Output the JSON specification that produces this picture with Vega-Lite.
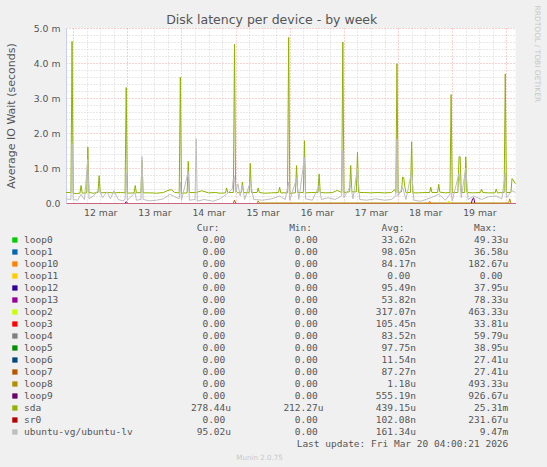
{
  "$schema": "https://vega.github.io/schema/vega-lite/v6.json",
  "background": "#f0f0f0",
  "padding": {"left": 5, "top": 5, "right": 6, "bottom": 7},
  "config": {"font": "DejaVu Sans", "view": {"stroke": null}, "concat": {"spacing": 5}},
  "datasets": {
    "sda": [
      {"t": "2026-03-11T20:50Z", "v": 0.30}, {"t": "2026-03-11T23:00Z", "v": 0.30}, {"t": "2026-03-11T23:30Z", "v": 4.62},
      {"t": "2026-03-12T00:00Z", "v": 0.28}, {"t": "2026-03-12T01:30Z", "v": 0.27}, {"t": "2026-03-12T03:00Z", "v": 0.28},
      {"t": "2026-03-12T03:30Z", "v": 0.50}, {"t": "2026-03-12T04:00Z", "v": 0.28}, {"t": "2026-03-12T06:00Z", "v": 0.29},
      {"t": "2026-03-12T06:30Z", "v": 1.60}, {"t": "2026-03-12T07:00Z", "v": 0.30}, {"t": "2026-03-12T09:00Z", "v": 0.28},
      {"t": "2026-03-12T11:00Z", "v": 0.30}, {"t": "2026-03-12T11:30Z", "v": 0.78}, {"t": "2026-03-12T12:00Z", "v": 0.29},
      {"t": "2026-03-12T15:00Z", "v": 0.30}, {"t": "2026-03-12T18:00Z", "v": 0.29}, {"t": "2026-03-12T21:00Z", "v": 0.30},
      {"t": "2026-03-12T23:00Z", "v": 0.29}, {"t": "2026-03-12T23:30Z", "v": 3.30}, {"t": "2026-03-13T00:00Z", "v": 0.28},
      {"t": "2026-03-13T03:00Z", "v": 0.29}, {"t": "2026-03-13T03:30Z", "v": 0.50}, {"t": "2026-03-13T04:00Z", "v": 0.29},
      {"t": "2026-03-13T06:00Z", "v": 0.30}, {"t": "2026-03-13T06:30Z", "v": 1.22}, {"t": "2026-03-13T07:00Z", "v": 0.29},
      {"t": "2026-03-13T10:00Z", "v": 0.29}, {"t": "2026-03-13T13:00Z", "v": 0.28}, {"t": "2026-03-13T16:00Z", "v": 0.30},
      {"t": "2026-03-13T18:00Z", "v": 0.36}, {"t": "2026-03-13T19:30Z", "v": 0.38}, {"t": "2026-03-13T21:00Z", "v": 0.30},
      {"t": "2026-03-13T23:00Z", "v": 0.29}, {"t": "2026-03-13T23:30Z", "v": 3.60}, {"t": "2026-03-14T00:00Z", "v": 0.28},
      {"t": "2026-03-14T02:30Z", "v": 0.29}, {"t": "2026-03-14T03:00Z", "v": 1.19}, {"t": "2026-03-14T03:30Z", "v": 0.30},
      {"t": "2026-03-14T06:30Z", "v": 0.30}, {"t": "2026-03-14T09:00Z", "v": 0.35}, {"t": "2026-03-14T12:00Z", "v": 0.29},
      {"t": "2026-03-14T15:00Z", "v": 0.30}, {"t": "2026-03-14T17:00Z", "v": 0.28}, {"t": "2026-03-14T19:30Z", "v": 0.29},
      {"t": "2026-03-14T20:00Z", "v": 0.43}, {"t": "2026-03-14T20:30Z", "v": 0.30}, {"t": "2026-03-14T23:00Z", "v": 0.30},
      {"t": "2026-03-14T23:30Z", "v": 4.54}, {"t": "2026-03-15T00:00Z", "v": 0.35}, {"t": "2026-03-15T01:00Z", "v": 0.29},
      {"t": "2026-03-15T02:30Z", "v": 0.30}, {"t": "2026-03-15T03:00Z", "v": 0.60}, {"t": "2026-03-15T03:30Z", "v": 0.30},
      {"t": "2026-03-15T06:00Z", "v": 0.29}, {"t": "2026-03-15T06:30Z", "v": 1.13}, {"t": "2026-03-15T07:00Z", "v": 0.30},
      {"t": "2026-03-15T09:30Z", "v": 0.30}, {"t": "2026-03-15T10:00Z", "v": 0.43}, {"t": "2026-03-15T10:30Z", "v": 0.30},
      {"t": "2026-03-15T13:00Z", "v": 0.28}, {"t": "2026-03-15T16:00Z", "v": 0.29}, {"t": "2026-03-15T19:00Z", "v": 0.30},
      {"t": "2026-03-15T19:30Z", "v": 0.45}, {"t": "2026-03-15T20:00Z", "v": 0.29}, {"t": "2026-03-15T23:00Z", "v": 0.29},
      {"t": "2026-03-15T23:30Z", "v": 4.73}, {"t": "2026-03-16T00:00Z", "v": 0.28}, {"t": "2026-03-16T02:30Z", "v": 0.29},
      {"t": "2026-03-16T03:00Z", "v": 1.07}, {"t": "2026-03-16T03:30Z", "v": 0.30}, {"t": "2026-03-16T06:00Z", "v": 0.30},
      {"t": "2026-03-16T06:30Z", "v": 1.78}, {"t": "2026-03-16T07:00Z", "v": 0.29}, {"t": "2026-03-16T09:30Z", "v": 0.30},
      {"t": "2026-03-16T12:30Z", "v": 0.30}, {"t": "2026-03-16T13:00Z", "v": 0.83}, {"t": "2026-03-16T13:30Z", "v": 0.30},
      {"t": "2026-03-16T16:00Z", "v": 0.29}, {"t": "2026-03-16T19:00Z", "v": 0.30}, {"t": "2026-03-16T21:00Z", "v": 0.36},
      {"t": "2026-03-16T23:00Z", "v": 0.30}, {"t": "2026-03-16T23:30Z", "v": 4.60}, {"t": "2026-03-17T00:00Z", "v": 0.30},
      {"t": "2026-03-17T02:30Z", "v": 0.32}, {"t": "2026-03-17T03:00Z", "v": 1.07}, {"t": "2026-03-17T03:30Z", "v": 0.32},
      {"t": "2026-03-17T05:30Z", "v": 0.32}, {"t": "2026-03-17T06:00Z", "v": 1.45}, {"t": "2026-03-17T06:30Z", "v": 0.30},
      {"t": "2026-03-17T09:00Z", "v": 0.30}, {"t": "2026-03-17T12:00Z", "v": 0.29}, {"t": "2026-03-17T15:00Z", "v": 0.30},
      {"t": "2026-03-17T18:00Z", "v": 0.29}, {"t": "2026-03-17T21:00Z", "v": 0.30}, {"t": "2026-03-17T22:30Z", "v": 0.38},
      {"t": "2026-03-17T23:00Z", "v": 0.30}, {"t": "2026-03-17T23:30Z", "v": 3.98}, {"t": "2026-03-18T00:00Z", "v": 0.30},
      {"t": "2026-03-18T01:30Z", "v": 0.32}, {"t": "2026-03-18T02:00Z", "v": 0.74}, {"t": "2026-03-18T02:30Z", "v": 0.72},
      {"t": "2026-03-18T03:00Z", "v": 0.45}, {"t": "2026-03-18T03:30Z", "v": 0.30}, {"t": "2026-03-18T05:30Z", "v": 0.30},
      {"t": "2026-03-18T06:00Z", "v": 1.75}, {"t": "2026-03-18T06:30Z", "v": 0.29}, {"t": "2026-03-18T09:00Z", "v": 0.29},
      {"t": "2026-03-18T12:00Z", "v": 0.30}, {"t": "2026-03-18T14:00Z", "v": 0.30}, {"t": "2026-03-18T14:30Z", "v": 0.45},
      {"t": "2026-03-18T15:00Z", "v": 0.30}, {"t": "2026-03-18T17:30Z", "v": 0.30}, {"t": "2026-03-18T18:00Z", "v": 0.53},
      {"t": "2026-03-18T18:30Z", "v": 0.31}, {"t": "2026-03-18T21:00Z", "v": 0.29}, {"t": "2026-03-18T23:00Z", "v": 0.30},
      {"t": "2026-03-18T23:30Z", "v": 3.10}, {"t": "2026-03-19T00:00Z", "v": 0.30}, {"t": "2026-03-19T02:30Z", "v": 0.30},
      {"t": "2026-03-19T03:00Z", "v": 1.32}, {"t": "2026-03-19T03:30Z", "v": 1.32}, {"t": "2026-03-19T04:00Z", "v": 0.30},
      {"t": "2026-03-19T05:30Z", "v": 0.30}, {"t": "2026-03-19T06:00Z", "v": 1.32}, {"t": "2026-03-19T06:30Z", "v": 0.30},
      {"t": "2026-03-19T09:00Z", "v": 0.29}, {"t": "2026-03-19T12:30Z", "v": 0.30}, {"t": "2026-03-19T13:00Z", "v": 0.40},
      {"t": "2026-03-19T13:30Z", "v": 0.30}, {"t": "2026-03-19T16:00Z", "v": 0.29}, {"t": "2026-03-19T19:00Z", "v": 0.29},
      {"t": "2026-03-19T19:30Z", "v": 0.40}, {"t": "2026-03-19T20:00Z", "v": 0.29}, {"t": "2026-03-19T23:00Z", "v": 0.30},
      {"t": "2026-03-19T23:30Z", "v": 3.69}, {"t": "2026-03-20T00:00Z", "v": 0.30}, {"t": "2026-03-20T02:00Z", "v": 0.30},
      {"t": "2026-03-20T02:30Z", "v": 0.70}, {"t": "2026-03-20T03:00Z", "v": 0.66}, {"t": "2026-03-20T04:00Z", "v": 0.55}
    ],
    "lv": [
      {"t": "2026-03-11T20:50Z", "v": 0.12}, {"t": "2026-03-11T23:00Z", "v": 0.10}, {"t": "2026-03-11T23:30Z", "v": 1.70},
      {"t": "2026-03-12T00:00Z", "v": 0.10}, {"t": "2026-03-12T02:00Z", "v": 0.08}, {"t": "2026-03-12T03:30Z", "v": 0.25},
      {"t": "2026-03-12T05:00Z", "v": 0.10}, {"t": "2026-03-12T06:30Z", "v": 1.25}, {"t": "2026-03-12T07:00Z", "v": 0.12},
      {"t": "2026-03-12T09:00Z", "v": 0.20}, {"t": "2026-03-12T11:30Z", "v": 0.40}, {"t": "2026-03-12T13:00Z", "v": 0.15},
      {"t": "2026-03-12T15:00Z", "v": 0.32}, {"t": "2026-03-12T16:30Z", "v": 0.12}, {"t": "2026-03-12T18:00Z", "v": 0.35},
      {"t": "2026-03-12T20:00Z", "v": 0.10}, {"t": "2026-03-12T22:00Z", "v": 0.06}, {"t": "2026-03-12T23:00Z", "v": 0.10},
      {"t": "2026-03-12T23:30Z", "v": 0.85}, {"t": "2026-03-13T00:00Z", "v": 0.08}, {"t": "2026-03-13T03:30Z", "v": 0.30},
      {"t": "2026-03-13T04:00Z", "v": 0.08}, {"t": "2026-03-13T06:00Z", "v": 0.10}, {"t": "2026-03-13T06:30Z", "v": 1.33},
      {"t": "2026-03-13T07:00Z", "v": 0.10}, {"t": "2026-03-13T10:00Z", "v": 0.06}, {"t": "2026-03-13T13:00Z", "v": 0.08},
      {"t": "2026-03-13T16:00Z", "v": 0.12}, {"t": "2026-03-13T19:00Z", "v": 0.25}, {"t": "2026-03-13T21:00Z", "v": 0.18},
      {"t": "2026-03-13T23:00Z", "v": 0.12}, {"t": "2026-03-13T23:30Z", "v": 0.60}, {"t": "2026-03-14T00:00Z", "v": 0.08},
      {"t": "2026-03-14T03:00Z", "v": 0.90}, {"t": "2026-03-14T03:30Z", "v": 0.08}, {"t": "2026-03-14T06:00Z", "v": 0.10},
      {"t": "2026-03-14T06:30Z", "v": 1.84}, {"t": "2026-03-14T07:00Z", "v": 0.05}, {"t": "2026-03-14T10:00Z", "v": 0.10},
      {"t": "2026-03-14T14:00Z", "v": 0.05}, {"t": "2026-03-14T17:00Z", "v": 0.12}, {"t": "2026-03-14T20:00Z", "v": 0.25},
      {"t": "2026-03-14T22:30Z", "v": 0.40}, {"t": "2026-03-14T23:00Z", "v": 0.70}, {"t": "2026-03-14T23:30Z", "v": 0.75},
      {"t": "2026-03-15T00:00Z", "v": 0.30}, {"t": "2026-03-15T01:00Z", "v": 0.55}, {"t": "2026-03-15T02:00Z", "v": 0.20},
      {"t": "2026-03-15T03:00Z", "v": 0.50}, {"t": "2026-03-15T04:00Z", "v": 0.10}, {"t": "2026-03-15T06:30Z", "v": 0.60},
      {"t": "2026-03-15T08:00Z", "v": 0.10}, {"t": "2026-03-15T12:00Z", "v": 0.08}, {"t": "2026-03-15T16:00Z", "v": 0.12},
      {"t": "2026-03-15T19:30Z", "v": 0.20}, {"t": "2026-03-15T22:00Z", "v": 0.10}, {"t": "2026-03-15T23:30Z", "v": 0.60},
      {"t": "2026-03-16T00:00Z", "v": 0.08}, {"t": "2026-03-16T03:00Z", "v": 0.70}, {"t": "2026-03-16T04:00Z", "v": 0.10},
      {"t": "2026-03-16T06:30Z", "v": 1.30}, {"t": "2026-03-16T07:00Z", "v": 0.12}, {"t": "2026-03-16T10:00Z", "v": 0.08},
      {"t": "2026-03-16T13:00Z", "v": 0.50}, {"t": "2026-03-16T14:00Z", "v": 0.10}, {"t": "2026-03-16T17:00Z", "v": 0.15},
      {"t": "2026-03-16T20:00Z", "v": 0.10}, {"t": "2026-03-16T23:00Z", "v": 0.20}, {"t": "2026-03-16T23:30Z", "v": 1.50},
      {"t": "2026-03-17T00:00Z", "v": 0.15}, {"t": "2026-03-17T03:00Z", "v": 0.50}, {"t": "2026-03-17T04:00Z", "v": 0.12},
      {"t": "2026-03-17T06:00Z", "v": 1.00}, {"t": "2026-03-17T07:00Z", "v": 0.10}, {"t": "2026-03-17T10:00Z", "v": 0.08},
      {"t": "2026-03-17T14:00Z", "v": 0.12}, {"t": "2026-03-17T18:00Z", "v": 0.08}, {"t": "2026-03-17T21:00Z", "v": 0.10},
      {"t": "2026-03-17T23:00Z", "v": 0.20}, {"t": "2026-03-17T23:30Z", "v": 1.83}, {"t": "2026-03-18T00:00Z", "v": 0.20},
      {"t": "2026-03-18T02:00Z", "v": 0.45}, {"t": "2026-03-18T03:30Z", "v": 0.10}, {"t": "2026-03-18T06:00Z", "v": 0.90},
      {"t": "2026-03-18T07:00Z", "v": 0.08}, {"t": "2026-03-18T10:00Z", "v": 0.05}, {"t": "2026-03-18T14:30Z", "v": 0.15},
      {"t": "2026-03-18T18:00Z", "v": 0.25}, {"t": "2026-03-18T21:00Z", "v": 0.08}, {"t": "2026-03-18T23:30Z", "v": 0.30},
      {"t": "2026-03-19T00:00Z", "v": 0.06}, {"t": "2026-03-19T03:00Z", "v": 0.85}, {"t": "2026-03-19T04:00Z", "v": 0.15},
      {"t": "2026-03-19T06:00Z", "v": 1.00}, {"t": "2026-03-19T07:00Z", "v": 0.10}, {"t": "2026-03-19T09:30Z", "v": 0.20},
      {"t": "2026-03-19T13:00Z", "v": 0.10}, {"t": "2026-03-19T16:00Z", "v": 0.18}, {"t": "2026-03-19T19:30Z", "v": 0.20},
      {"t": "2026-03-19T22:00Z", "v": 0.12}, {"t": "2026-03-19T23:30Z", "v": 0.85}, {"t": "2026-03-20T00:00Z", "v": 0.15},
      {"t": "2026-03-20T02:30Z", "v": 0.35}, {"t": "2026-03-20T04:00Z", "v": 0.30}
    ],
    "loops": [
      {"d": "loop13", "t": "2026-03-12T23:00Z", "v": 0}, {"d": "loop13", "t": "2026-03-12T23:30Z", "v": 0.04}, {"d": "loop13", "t": "2026-03-13T00:00Z", "v": 0},
      {"d": "loop7", "t": "2026-03-14T23:00Z", "v": 0}, {"d": "loop7", "t": "2026-03-14T23:30Z", "v": 0.08}, {"d": "loop7", "t": "2026-03-15T00:00Z", "v": 0},
      {"d": "loop8", "t": "2026-03-15T09:30Z", "v": 0}, {"d": "loop8", "t": "2026-03-15T10:00Z", "v": 0.06}, {"d": "loop8", "t": "2026-03-15T10:30Z", "v": 0},
      {"d": "loop8", "t": "2026-03-20T01:00Z", "v": 0}, {"d": "loop8", "t": "2026-03-20T01:30Z", "v": 0.12}, {"d": "loop8", "t": "2026-03-20T02:00Z", "v": 0},
      {"d": "loop10", "t": "2026-03-18T13:30Z", "v": 0}, {"d": "loop10", "t": "2026-03-18T14:00Z", "v": 0.05}, {"d": "loop10", "t": "2026-03-18T14:30Z", "v": 0},
      {"d": "loop2", "t": "2026-03-18T22:00Z", "v": 0}, {"d": "loop2", "t": "2026-03-18T22:30Z", "v": 0.06}, {"d": "loop2", "t": "2026-03-18T23:00Z", "v": 0},
      {"d": "loop9", "t": "2026-03-19T08:30Z", "v": 0}, {"d": "loop9", "t": "2026-03-19T09:00Z", "v": 0.12}, {"d": "loop9", "t": "2026-03-19T09:30Z", "v": 0.15}, {"d": "loop9", "t": "2026-03-19T10:00Z", "v": 0}
    ],
    "legend": [
      {"d": "loop0", "cur": "0.00", "min": "0.00", "avg": "33.62n", "max": "49.33u"},
      {"d": "loop1", "cur": "0.00", "min": "0.00", "avg": "98.05n", "max": "36.58u"},
      {"d": "loop10", "cur": "0.00", "min": "0.00", "avg": "84.17n", "max": "182.67u"},
      {"d": "loop11", "cur": "0.00", "min": "0.00", "avg": "0.00", "max": "0.00"},
      {"d": "loop12", "cur": "0.00", "min": "0.00", "avg": "95.49n", "max": "37.95u"},
      {"d": "loop13", "cur": "0.00", "min": "0.00", "avg": "53.82n", "max": "78.33u"},
      {"d": "loop2", "cur": "0.00", "min": "0.00", "avg": "317.07n", "max": "463.33u"},
      {"d": "loop3", "cur": "0.00", "min": "0.00", "avg": "105.45n", "max": "33.81u"},
      {"d": "loop4", "cur": "0.00", "min": "0.00", "avg": "83.52n", "max": "59.79u"},
      {"d": "loop5", "cur": "0.00", "min": "0.00", "avg": "97.75n", "max": "38.95u"},
      {"d": "loop6", "cur": "0.00", "min": "0.00", "avg": "11.54n", "max": "27.41u"},
      {"d": "loop7", "cur": "0.00", "min": "0.00", "avg": "87.27n", "max": "27.41u"},
      {"d": "loop8", "cur": "0.00", "min": "0.00", "avg": "1.18u", "max": "493.33u"},
      {"d": "loop9", "cur": "0.00", "min": "0.00", "avg": "555.19n", "max": "926.67u"},
      {"d": "sda", "cur": "278.44u", "min": "212.27u", "avg": "439.15u", "max": "25.31m"},
      {"d": "sr0", "cur": "0.00", "min": "0.00", "avg": "102.08n", "max": "231.67u"},
      {"d": "ubuntu-vg/ubuntu-lv", "cur": "95.02u", "min": "0.00", "avg": "161.34u", "max": "9.47m"}
    ]
  },
  "resolve": {"scale": {"x": "independent", "y": "independent"}},
  "vconcat": [
    {
      "width": 449.5,
      "height": 175,
      "view": {"fill": "#ffffff", "stroke": null},
      "title": {"text": "Disk latency per device - by week", "fontSize": 12.5, "fontWeight": "normal", "color": "#555555", "anchor": "middle", "frame": "group", "dx": -19, "offset": -21.5},
      "resolve": {"axis": {"y": "independent"}},
      "encoding": {
        "x": {
          "field": "t", "type": "temporal",
          "scale": {"type": "utc", "domain": [1773262140000, 1773979320000]},
          "axis": {
            "title": null,
            "values": [1773273600000, 1773295200000, 1773316800000, 1773338400000, 1773360000000, 1773381600000, 1773403200000, 1773424800000, 1773446400000, 1773468000000, 1773489600000, 1773511200000, 1773532800000, 1773554400000, 1773576000000, 1773597600000, 1773619200000, 1773640800000, 1773662400000, 1773684000000, 1773705600000, 1773727200000, 1773748800000, 1773770400000, 1773792000000, 1773813600000, 1773835200000, 1773856800000, 1773878400000, 1773900000000, 1773921600000, 1773943200000, 1773964800000],
            "grid": true,
            "gridColor": {"condition": {"test": "utchours(datum.value) == 0", "value": "#eca4a4"}, "value": "#d2d2d2"},
            "gridDash": [1, 2], "ticks": false, "labelOverlap": false, "labelFlush": false,
            "labelExpr": "utchours(datum.value) == 12 ? lower(utcFormat(datum.value, '%d %b')) : ''",
            "labelFontSize": 9.3, "labelColor": "#555555", "labelPadding": 5,
            "domainColor": "#cc6680"
          }
        }
      },
      "layer": [
        {
          "data": {"name": "loops"},
          "mark": {"type": "line", "strokeWidth": 1},
          "encoding": {
            "y": {
              "field": "v", "type": "quantitative",
              "scale": {"domain": [0, 5], "nice": false},
              "axis": {
                "title": "Average IO Wait (seconds)",
                "values": [0, 0.2, 0.4, 0.6, 0.8, 1, 1.2, 1.4, 1.6, 1.8, 2, 2.2, 2.4, 2.6, 2.8, 3, 3.2, 3.4, 3.6, 3.8, 4, 4.2, 4.4, 4.6, 4.8, 5],
                "grid": true,
                "gridColor": {"condition": {"test": "datum.value % 1 == 0", "value": "#eca4a4"}, "value": "#d2d2d2"},
                "gridDash": [1, 2], "ticks": false, "labelOverlap": false,
                "labelExpr": "datum.value % 1 == 0 ? (datum.value == 0 ? '0.0' : format(datum.value, '.1f') + ' m') : ''",
                "labelFontSize": 9.3, "labelColor": "#555555", "labelPadding": 6,
                "titleFontSize": 11, "titleFontWeight": "normal", "titleColor": "#555555", "titlePadding": 17,
                "domainColor": "#c8cff0"
              }
            },
            "color": {"field": "d", "type": "nominal", "legend": null,
              "scale": {"domain": ["loop0", "loop1", "loop10", "loop11", "loop12", "loop13", "loop2", "loop3", "loop4", "loop5", "loop6", "loop7", "loop8", "loop9", "sda", "sr0", "ubuntu-vg/ubuntu-lv"],
                "range": ["#00cc00", "#0066b3", "#ff8000", "#ffcc00", "#330099", "#990099", "#ccff00", "#ff0000", "#808080", "#008f00", "#00487d", "#b35a00", "#b38f00", "#6b006b", "#8fb300", "#b30000", "#bebebe"]}}
          }
        },
        {
          "data": {"name": "sda"},
          "mark": {"type": "line", "strokeWidth": 1, "color": "#8fb300"},
          "encoding": {"y": {"field": "v", "type": "quantitative", "axis": null}}
        },
        {
          "data": {"name": "lv"},
          "mark": {"type": "line", "strokeWidth": 1, "color": "#bebebe"},
          "encoding": {
            "y": {
              "field": "v", "type": "quantitative",
              "axis": {
                "orient": "right", "grid": false, "labels": false, "ticks": false, "domain": false,
                "title": "RRDTOOL / TOBI OETIKER", "titleAngle": 90, "titleAlign": "left", "titleBaseline": "middle",
                "titleX": 21, "titleY": -23, "titleFontSize": 7.5, "titleFontWeight": "normal", "titleColor": "#c8c8c8"
              }
            }
          }
        }
      ]
    },
    {
      "width": 387,
      "height": 216,
      "title": {"text": "Munin 2.0.75", "orient": "bottom", "fontSize": 7.1, "fontWeight": "normal", "color": "#c8c8c8", "anchor": "middle", "frame": "group", "offset": 5},
      "resolve": {"scale": {"x": "independent"}},
      "encoding": {
        "y": {"field": "d", "type": "nominal", "axis": null, "scale": {"type": "point", "padding": 0, "domain": ["header", "loop0", "loop1", "loop10", "loop11", "loop12", "loop13", "loop2", "loop3", "loop4", "loop5", "loop6", "loop7", "loop8", "loop9", "sda", "sr0", "ubuntu-vg/ubuntu-lv", "update"]}}
      },
      "layer": [
        {
          "data": {"name": "legend"},
          "mark": {"type": "square", "size": 28, "filled": true, "opacity": 1},
          "encoding": {
            "x": {"datum": "sw", "type": "nominal", "axis": null, "scale": {"type": "point", "padding": 0, "domain": ["sw", "name"], "range": [-51.1, -42]}},
            "color": {"field": "d", "type": "nominal", "legend": null,
              "scale": {"domain": ["loop0", "loop1", "loop10", "loop11", "loop12", "loop13", "loop2", "loop3", "loop4", "loop5", "loop6", "loop7", "loop8", "loop9", "sda", "sr0", "ubuntu-vg/ubuntu-lv"],
                "range": ["#00cc00", "#0066b3", "#ff8000", "#ffcc00", "#330099", "#990099", "#ccff00", "#ff0000", "#808080", "#008f00", "#00487d", "#b35a00", "#b38f00", "#6b006b", "#8fb300", "#b30000", "#bebebe"]}}
          }
        },
        {
          "data": {"name": "legend"},
          "mark": {"type": "text", "align": "left", "baseline": "middle", "font": "DejaVu Sans Mono", "fontSize": 9.5, "color": "#555555"},
          "encoding": {
            "x": {"datum": "name", "type": "nominal", "axis": null, "scale": {"type": "point", "padding": 0, "domain": ["sw", "name"], "range": [-51.1, -42]}},
            "text": {"field": "d"}
          }
        },
        {
          "data": {"name": "legend"},
          "transform": [{"fold": ["cur", "min", "avg", "max"], "as": ["col", "val"]}, {"filter": "isNaN(toNumber(datum.val))"}],
          "mark": {"type": "text", "align": "right", "baseline": "middle", "font": "DejaVu Sans Mono", "fontSize": 9.5, "color": "#555555"},
          "encoding": {
            "x": {"field": "col", "type": "nominal", "axis": null, "scale": {"type": "point", "padding": 0, "domain": ["cur", "min", "avg", "max"], "range": [165, 442.3]}},
            "text": {"field": "val"}
          }
        },
        {
          "data": {"name": "legend"},
          "transform": [{"fold": ["cur", "min", "avg", "max"], "as": ["col", "val"]}, {"filter": "!isNaN(toNumber(datum.val))"}],
          "mark": {"type": "text", "align": "right", "baseline": "middle", "font": "DejaVu Sans Mono", "fontSize": 9.5, "color": "#555555", "dx": -5.7},
          "encoding": {
            "x": {"field": "col", "type": "nominal", "axis": null, "scale": {"type": "point", "padding": 0, "domain": ["cur", "min", "avg", "max"], "range": [165, 442.3]}},
            "text": {"field": "val"}
          }
        },
        {
          "data": {"values": [
            {"col": "cur", "d": "header", "h": "Cur:"},
            {"col": "min", "d": "header", "h": "Min:"},
            {"col": "avg", "d": "header", "h": "Avg:"},
            {"col": "max", "d": "header", "h": "Max:"}
          ]},
          "mark": {"type": "text", "align": "right", "baseline": "middle", "font": "DejaVu Sans Mono", "fontSize": 9.5, "color": "#555555", "dx": -11.4},
          "encoding": {
            "x": {"field": "col", "type": "nominal", "axis": null, "scale": {"type": "point", "padding": 0, "domain": ["cur", "min", "avg", "max"], "range": [165, 442.3]}},
            "text": {"field": "h"}
          }
        },
        {
          "data": {"values": [{"col": "max", "d": "update", "h": "Last update: Fri Mar 20 04:00:21 2026"}]},
          "mark": {"type": "text", "align": "right", "baseline": "middle", "font": "DejaVu Sans Mono", "fontSize": 9.5, "color": "#555555"},
          "encoding": {
            "x": {"field": "col", "type": "nominal", "axis": null, "scale": {"type": "point", "padding": 0, "domain": ["cur", "min", "avg", "max"], "range": [165, 442.3]}},
            "text": {"field": "h"}
          }
        }
      ]
    }
  ]
}
